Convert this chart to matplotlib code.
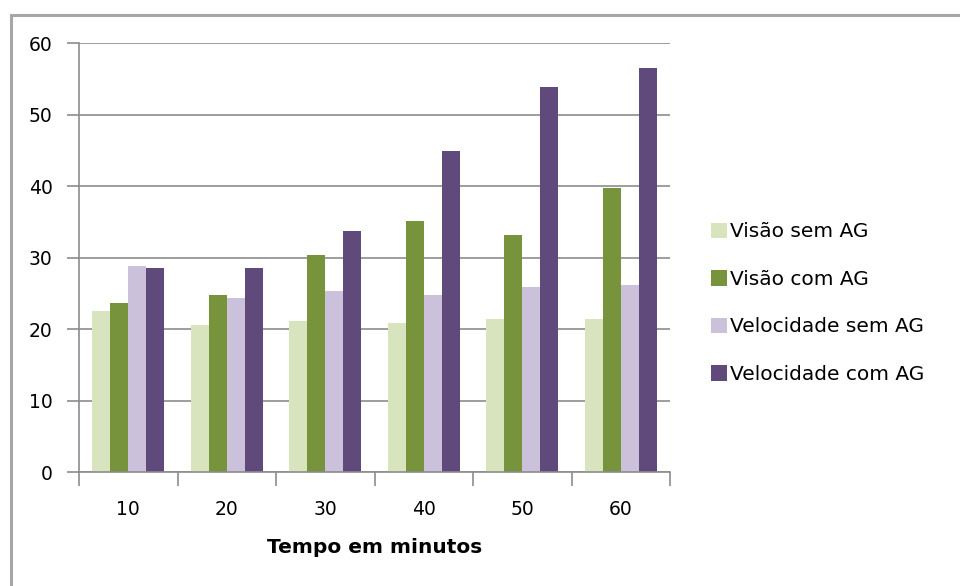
import numpy as np
import matplotlib
matplotlib.use('Agg')
import matplotlib.pyplot as plt
from matplotlib.patches import Rectangle

categorias = ["10", "20", "30", "40", "50", "60"]
visao_sem_ag = [22.6, 20.6, 21.2, 20.9, 21.4, 21.4]
visao_com_ag = [23.7, 24.8, 30.4, 35.2, 33.2, 39.8]
velocidade_sem_ag = [28.8, 24.3, 25.4, 24.8, 25.9, 26.2]
velocidade_com_ag = [28.5, 28.5, 33.8, 45.0, 53.9, 56.5]

series = [visao_sem_ag, visao_com_ag, velocidade_sem_ag, velocidade_com_ag]
nomes = ["Visão sem AG", "Visão com AG", "Velocidade sem AG", "Velocidade com AG"]
cores = ["#D7E4BD", "#77933C", "#CCC1DA", "#604A7B"]

plt.rcParams["font.family"] = ["DejaVu Sans"]

fig = plt.figure(figsize=(9.6, 5.86), dpi=100)
ax = fig.add_axes([0.0823, 0.1945, 0.6157, 0.7315])

# moldura cinza em volta do gráfico
fig.patches.append(Rectangle((0.011, -0.05), 1.1, 0.05 + 0.975, transform=fig.transFigure,
                             fill=False, edgecolor="#a6a6a6", linewidth=2.2))

x = np.arange(len(categorias))
largura = 0.183
for i, (vals, nome, cor) in enumerate(zip(series, nomes, cores)):
    ax.bar(x + (i - 1.5) * largura, vals, largura, color=cor, label=nome, zorder=3)

ax.set_xlim(-0.5, len(categorias) - 0.5)
ax.set_ylim(0, 60)
ax.set_yticks(range(0, 61, 10))
ax.set_xticks(x)
ax.set_xticklabels(categorias)
ax.set_xticks(np.arange(-0.5, len(categorias), 1.0), minor=True)

cinza = "#8c8c8c"
ax.grid(axis="y", color=cinza, linewidth=1.2, zorder=0)
for s in ["top", "right"]:
    ax.spines[s].set_visible(False)
for s in ["left", "bottom"]:
    ax.spines[s].set_color(cinza)
    ax.spines[s].set_linewidth(1.2)
    ax.spines[s].set_zorder(4)

ax.tick_params(axis="y", direction="out", length=9, width=1.2, color=cinza, labelsize=13.5, pad=10)
ax.tick_params(axis="x", which="major", length=0, labelsize=13.5, pad=20)
ax.tick_params(axis="x", which="minor", direction="out", length=10, width=1.2, color=cinza)

ax.set_xlabel("Tempo em minutos", fontsize=14.5, fontweight="bold", labelpad=14)

ax.legend(loc="center left", bbox_to_anchor=(1.055, 0.394), frameon=False, fontsize=14.5,
          handlelength=0.8, handleheight=0.8, handletextpad=0.15, labelspacing=1.42,
          borderaxespad=0)

fig.savefig("out.png", dpi=100)
